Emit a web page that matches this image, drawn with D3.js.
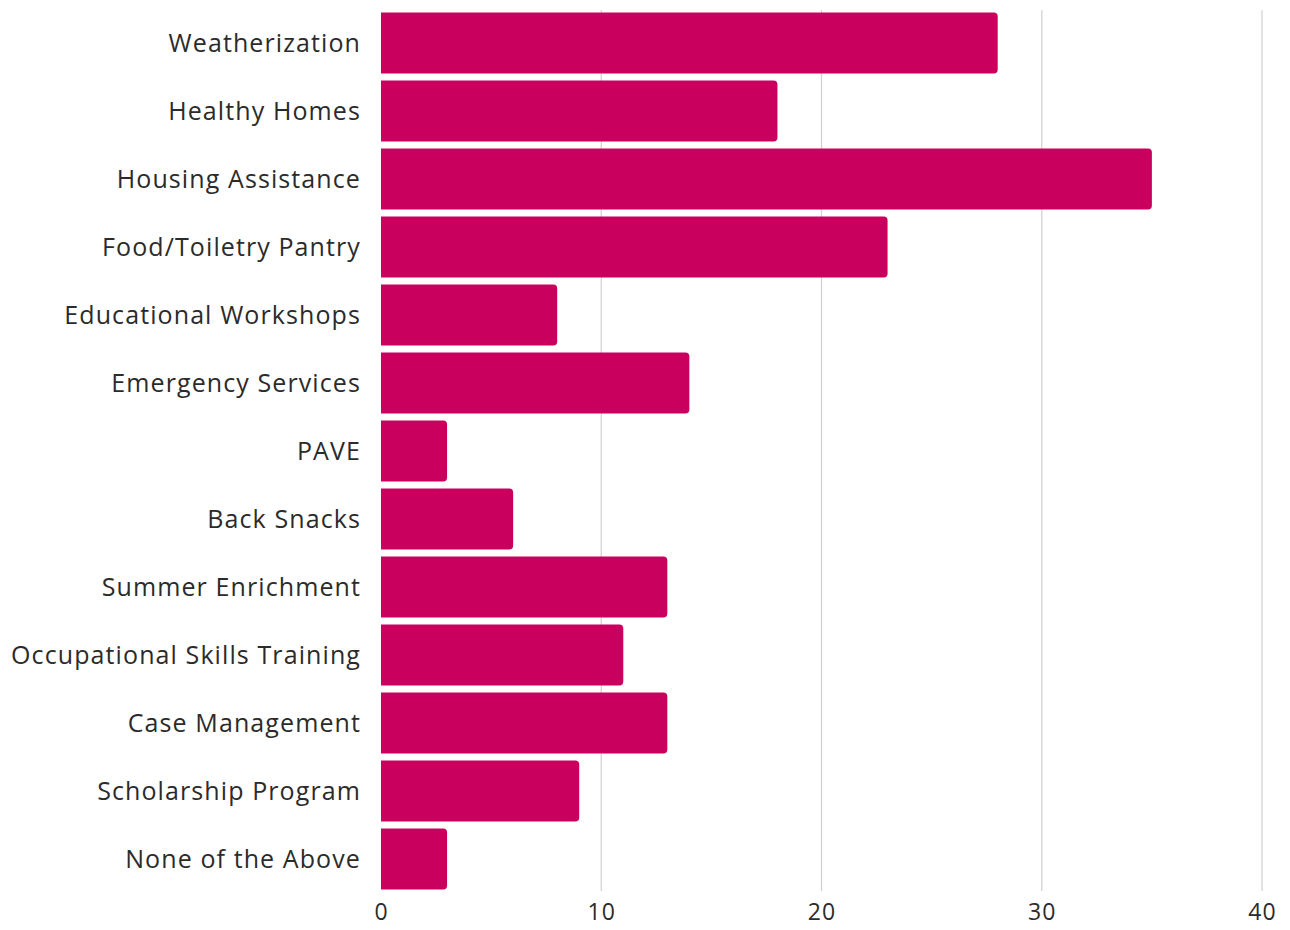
<!DOCTYPE html>
<html>
<head>
<meta charset="utf-8">
<script src="https://cdn.jsdelivr.net/npm/d3@7"></script>
<style>
  html, body { margin: 0; padding: 0; background: #fff; }
  svg { display: block; }
  text { font-family: "Open Sans", "Noto Sans", sans-serif; fill: #2b2b2b; }
</style>
</head>
<body>
<svg id="chart" width="1290" height="930"></svg>
<script>
// Programs and number of responses
const programs = [
  "Weatherization", "Healthy Homes", "Housing Assistance", "Food/Toiletry Pantry",
  "Educational Workshops", "Emergency Services", "PAVE", "Back Snacks",
  "Summer Enrichment", "Occupational Skills Training", "Case Management",
  "Scholarship Program", "None of the Above"
];
const counts = [28, 18, 35, 23, 8, 14, 3, 6, 13, 11, 13, 9, 3];
const xTicks = [0, 10, 20, 30, 40];

const svg = d3.select("#chart");
const plotLeft = 381, plotRight = 1262, plotTop = 9, plotBottom = 893;

const x = d3.scaleLinear().domain([0, 40]).range([plotLeft, plotRight]);
const y = d3.scaleBand().domain(programs).range([plotTop, plotBottom])
  .paddingInner(0.1).paddingOuter(0.05);

// vertical gridlines
svg.append("g").selectAll("line").data(xTicks.filter(d => d > 0)).join("line")
  .attr("x1", d => x(d)).attr("x2", d => x(d))
  .attr("y1", 10).attr("y2", 891)
  .attr("stroke", "#d0d0d0").attr("stroke-width", 1.2);

// bars with rounded right end
const r = 4;
function barPath(d, i) {
  const x0 = x(0), x1 = x(d), y0 = y(programs[i]), h = y.bandwidth();
  return `M${x0},${y0}H${x1 - r}Q${x1},${y0} ${x1},${y0 + r}V${y0 + h - r}Q${x1},${y0 + h} ${x1 - r},${y0 + h}H${x0}Z`;
}
svg.append("g").selectAll("path").data(counts).join("path")
  .attr("d", barPath)
  .attr("fill", "#c9005e");

// category labels
const yAxis = svg.append("g").attr("transform", `translate(${plotLeft},0)`)
  .call(d3.axisLeft(y).tickSize(0).tickPadding(20));
yAxis.select(".domain").remove();
yAxis.selectAll("text")
  .style("font-size", "25px").style("letter-spacing", "1.1px")
  .attr("dy", "0.34em");

// value axis
const xAxis = svg.append("g").attr("transform", `translate(0,${plotBottom})`)
  .call(d3.axisBottom(x).tickValues(xTicks).tickSize(0).tickPadding(11));
xAxis.select(".domain").remove();
xAxis.selectAll("text").style("font-size", "23px").style("letter-spacing", "1px");
</script>
</body>
</html>
